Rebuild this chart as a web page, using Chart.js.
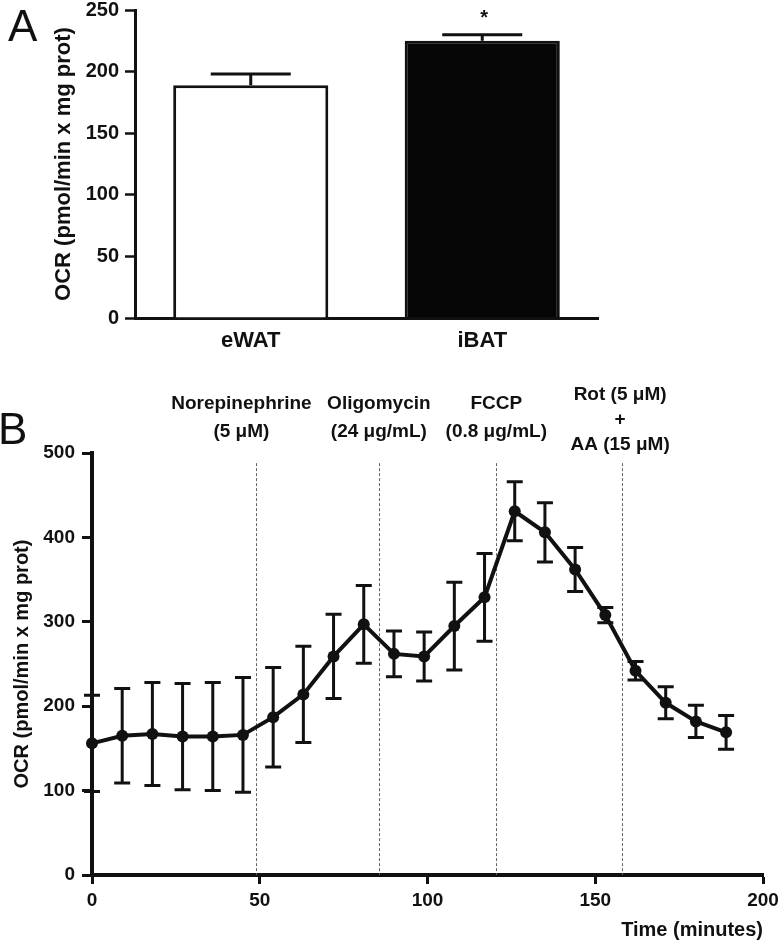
<!DOCTYPE html>
<html>
<head>
<meta charset="utf-8">
<script src="https://cdn.jsdelivr.net/npm/chart.js@4.4.0/dist/chart.umd.min.js"></script>
<style>
  body { margin: 0; background: #fff; }
  #wrap { position: relative; width: 780px; height: 940px; }
  #chartA { position: absolute; left: 0; top: 0; }
  #chartB { position: absolute; left: 0; top: 370px; }
  .panel { position: absolute; font-family: "Liberation Sans Narrow", "Liberation Sans", sans-serif; font-size: 44px; line-height: 1; color: #111; }
</style>
</head>
<body>
<div id="wrap">
  <canvas id="chartA" width="780" height="370"></canvas>
  <canvas id="chartB" width="780" height="570"></canvas>
  <div class="panel" style="left:8px; top:4px;">A</div>
  <div class="panel" style="left:-2px; top:407px;">B</div>
</div>
<script>
// ---- datos panel A ----
const tejidos = ['eWAT', 'iBAT'];
const ocrTejido = [189, 225];
const errTejido = [9, 5];
const ticksA = [0, 50, 100, 150, 200, 250];

// ---- datos panel B ----
const tiempos = [0, 9, 18, 27, 36, 45, 54, 63, 72, 81, 90, 99, 108, 117, 126, 135, 144, 153, 162, 171, 180, 189];
const ocrTiempo = [156, 165, 167, 164, 164, 166, 187, 214, 259, 297, 262, 259, 295, 329, 431, 406, 362, 308, 242, 204, 182, 169];
const errTiempo = [57, 56, 61, 63, 64, 68, 59, 57, 50, 46, 27, 29, 52, 52, 35, 35, 26, 9, 11, 19, 19, 20];
const tiemposDroga = [49, 85.5, 120.5, 158];
const drogas = [
  ['Norepinephrine', '(5 \u03bcM)'],
  ['Oligomycin', '(24 \u03bcg/mL)'],
  ['FCCP', '(0.8 \u03bcg/mL)'],
  ['Rot (5 \u03bcM)', '+', 'AA (15 \u03bcM)']
];
const ticksBx = [0, 50, 100, 150, 200];
const ticksBy = [0, 100, 200, 300, 400, 500];

const FUENTE = '"Liberation Sans", Arial, sans-serif';
const NEGRO = '#111';

Chart.defaults.font.family = FUENTE;
Chart.defaults.font.weight = 'bold';
Chart.defaults.color = NEGRO;

function fijarCaja(ancho, alto) {
  return (scale) => {
    if (ancho !== null) scale.width = ancho;
    if (alto !== null) scale.height = alto;
    scale.paddingTop = 0; scale.paddingBottom = 0;
    scale.paddingLeft = 0; scale.paddingRight = 0;
  };
}

const barrasError = {
  id: 'barrasError',
  afterDatasetsDraw(chart) {
    const {ctx, scales: {x, y}} = chart;
    ctx.save();
    ctx.strokeStyle = NEGRO;
    ctx.lineWidth = 3;
    ocrTejido.forEach((v, i) => {
      const px = x.getPixelForValue(i);
      const y0 = y.getPixelForValue(v);
      const y1 = y.getPixelForValue(v + errTejido[i]);
      ctx.beginPath();
      ctx.moveTo(px, y0);
      ctx.lineTo(px, y1);
      ctx.moveTo(px - 40, y1);
      ctx.lineTo(px + 40, y1);
      ctx.stroke();
    });
    // asterisco sobre iBAT
    const px = x.getPixelForValue(1);
    const yTop = y.getPixelForValue(ocrTejido[1] + errTejido[1]);
    ctx.fillStyle = NEGRO;
    ctx.font = 'bold 20px ' + FUENTE;
    ctx.textAlign = 'center';
    ctx.textBaseline = 'alphabetic';
    ctx.fillText('*', px + 2, yTop - 11);
    ctx.restore();
  }
};

new Chart(document.getElementById('chartA'), {
  type: 'bar',
  data: {
    labels: tejidos,
    datasets: [{
      data: ocrTejido,
      backgroundColor: ['#ffffff', '#060606'],
      borderColor: NEGRO,
      borderWidth: 3,
      barPercentage: 0.67,
      categoryPercentage: 1
    }]
  },
  options: {
    responsive: false,
    animation: false,
    layout: { padding: { top: 10, right: 182, bottom: 0, left: 0 } },
    plugins: { legend: { display: false }, tooltip: { enabled: false } },
    scales: {
      x: {
        grid: { display: false, drawTicks: false },
        border: { display: true, width: 3, color: NEGRO },
        ticks: { font: { size: 22, lineHeight: 1 }, padding: 12 },
        afterFit: fijarCaja(null, 52)
      },
      y: {
        min: 0, max: 250,
        afterBuildTicks: (s) => { s.ticks = ticksA.map(v => ({ value: v })); },
        grid: { drawOnChartArea: false, drawTicks: true, tickLength: 10, tickWidth: 2.5, tickColor: NEGRO },
        border: { display: true, width: 3, color: NEGRO },
        ticks: { font: { size: 20, lineHeight: 1 }, padding: 6 },
        title: {
          display: true,
          text: 'OCR (pmol/min x mg prot)',
          font: { size: 22, lineHeight: 1 },
          padding: { top: 53, bottom: 0 }
        },
        afterFit: fijarCaja(135, null)
      }
    }
  },
  plugins: [barrasError]
});

const barrasErrorB = {
  id: 'barrasErrorB',
  beforeDatasetsDraw(chart) {
    const {ctx, scales: {x, y}} = chart;
    ctx.save();
    // lineas de inyeccion
    ctx.strokeStyle = '#666';
    ctx.lineWidth = 1;
    ctx.setLineDash([3, 2]);
    tiemposDroga.forEach(t => {
      const px = Math.round(x.getPixelForValue(t)) + 0.5;
      ctx.beginPath();
      ctx.moveTo(px, y.getPixelForValue(488));
      ctx.lineTo(px, y.getPixelForValue(0));
      ctx.stroke();
    });
    ctx.setLineDash([]);

    // textos de las drogas
    const desplazaX = [-15, 0, 0, -2];
    const filasY = [[34, 62], [34, 62], [34, 62], [25, 50, 75]];
    ctx.fillStyle = NEGRO;
    ctx.font = 'bold 19px ' + FUENTE;
    ctx.textAlign = 'center';
    ctx.textBaseline = 'middle';
    drogas.forEach((lineas, i) => {
      const px = x.getPixelForValue(tiemposDroga[i]) + desplazaX[i];
      lineas.forEach((txt, k) => ctx.fillText(txt, px, filasY[i][k]));
    });

    // barras de error
    ctx.strokeStyle = NEGRO;
    ctx.lineWidth = 3;
    tiempos.forEach((t, i) => {
      const px = x.getPixelForValue(t);
      const yA = y.getPixelForValue(ocrTiempo[i] + errTiempo[i]);
      const yB = y.getPixelForValue(ocrTiempo[i] - errTiempo[i]);
      ctx.beginPath();
      ctx.moveTo(px, yA); ctx.lineTo(px, yB);
      ctx.moveTo(px - 8, yA); ctx.lineTo(px + 8, yA);
      ctx.moveTo(px - 8, yB); ctx.lineTo(px + 8, yB);
      ctx.stroke();
    });
    ctx.restore();
  }
};

new Chart(document.getElementById('chartB'), {
  type: 'line',
  data: {
    datasets: [{
      data: tiempos.map((t, i) => ({ x: t, y: ocrTiempo[i] })),
      borderColor: NEGRO,
      backgroundColor: NEGRO,
      borderWidth: 4,
      pointRadius: 6,
      pointBackgroundColor: NEGRO,
      pointBorderWidth: 0,
      tension: 0,
      clip: false
    }]
  },
  options: {
    responsive: false,
    animation: false,
    layout: { padding: { top: 83, right: 17, bottom: 0, left: 0 } },
    plugins: { legend: { display: false }, tooltip: { enabled: false } },
    scales: {
      x: {
        type: 'linear',
        min: 0, max: 200,
        afterBuildTicks: (s) => { s.ticks = ticksBx.map(v => ({ value: v })); },
        grid: { drawOnChartArea: false, drawTicks: true, tickLength: 9, tickWidth: 3, tickColor: NEGRO },
        border: { display: true, width: 4, color: NEGRO },
        ticks: { font: { size: 19, lineHeight: 1 }, padding: 7, maxRotation: 0 },
        title: {
          display: true,
          text: 'Time (minutes)',
          align: 'end',
          font: { size: 20, lineHeight: 1 },
          padding: { top: 3, bottom: 0 }
        },
        afterFit: fijarCaja(null, 65)
      },
      y: {
        min: 0, max: 500,
        afterBuildTicks: (s) => { s.ticks = ticksBy.map(v => ({ value: v })); },
        grid: { drawOnChartArea: false, drawTicks: true, tickLength: 10, tickWidth: 3, tickColor: NEGRO },
        border: { display: true, width: 4, color: NEGRO },
        ticks: { font: { size: 19, lineHeight: 1 }, padding: 7 },
        title: {
          display: true,
          text: 'OCR (pmol/min x mg prot)',
          font: { size: 20, lineHeight: 1 },
          padding: { top: 12, bottom: 0 }
        },
        afterFit: fijarCaja(92, null)
      }
    }
  },
  plugins: [barrasErrorB]
});
</script>
</body>
</html>
